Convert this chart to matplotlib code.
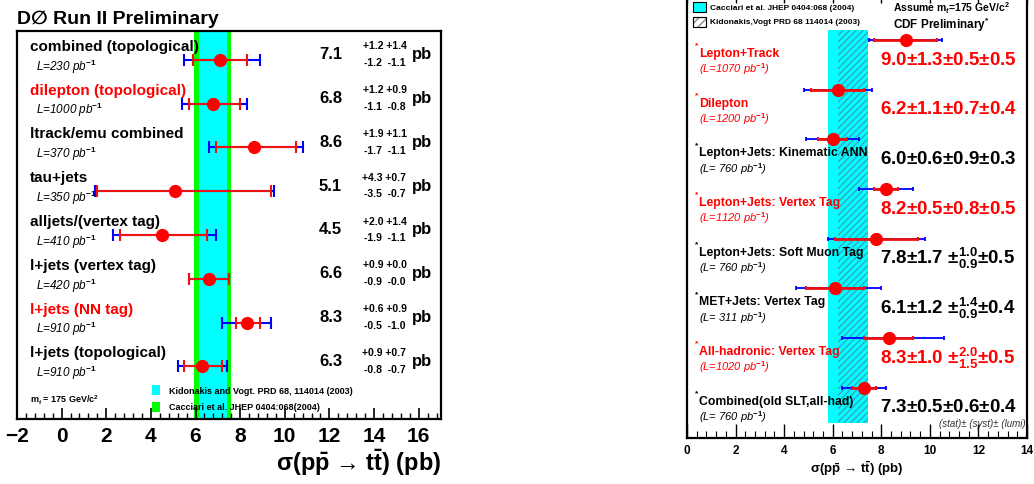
import matplotlib.pyplot as plt
from matplotlib.patches import Rectangle

plt.rcParams['font.family'] = ['Liberation Sans', 'DejaVu Sans']
plt.rcParams['font.weight'] = 'bold'
plt.rcParams['axes.labelweight'] = 'bold'
plt.rcParams['mathtext.fontset'] = 'custom'
plt.rcParams['mathtext.rm'] = 'Liberation Sans:bold'
plt.rcParams['mathtext.it'] = 'Liberation Sans:italic'
plt.rcParams['mathtext.bf'] = 'Liberation Sans:bold'

W, H = 1034, 485

# ---- D0 measurements (left panel)
d0_names = ["combined (topological)", "dilepton (topological)", "ltrack/emu combined",
            "tau+jets", "alljets/(vertex tag)", "l+jets (vertex tag)",
            "l+jets (NN tag)", "l+jets (topological)"]
d0_lumi = [230, 1000, 370, 350, 410, 420, 910, 910]
d0_val = [7.1, 6.8, 8.6, 5.1, 4.5, 6.6, 8.3, 6.3]
d0_stat_up = [1.2, 1.2, 1.9, 4.3, 2.0, 0.9, 0.6, 0.9]
d0_stat_dn = [1.2, 1.1, 1.7, 3.5, 1.9, 0.9, 0.5, 0.8]
d0_syst_up = [1.4, 0.9, 1.1, 0.7, 1.4, 0.0, 0.9, 0.7]
d0_syst_dn = [1.1, 0.8, 1.1, 0.7, 1.1, 0.0, 1.0, 0.7]
d0_tot_up = [1.8, 1.5, 2.2, 4.4, 2.4, 0.9, 1.1, 1.1]
d0_tot_dn = [1.6, 1.4, 2.0, 3.6, 2.2, 0.9, 1.1, 1.1]
d0_red = [False, True, False, False, False, False, True, False]

# theory bands (left): Cacciari (green), Kidonakis (cyan)
d0_cacciari = (5.95, 7.6)
d0_kidonakis = (6.15, 7.4)

# ---- CDF measurements (right panel)
cdf_names = ["Lepton+Track", "Dilepton", "Lepton+Jets: Kinematic ANN",
             "Lepton+Jets: Vertex Tag", "Lepton+Jets: Soft Muon Tag",
             "MET+Jets: Vertex Tag", "All-hadronic: Vertex Tag",
             "Combined(old SLT,all-had)"]
cdf_lumi = [1070, 1200, 760, 1120, 760, 311, 1020, 760]
cdf_val = [9.0, 6.2, 6.0, 8.2, 7.8, 6.1, 8.3, 7.3]
cdf_stat = [1.3, 1.1, 0.6, 0.5, 1.7, 1.2, 1.0, 0.5]
cdf_syst_up = [0.5, 0.7, 0.9, 0.8, 1.0, 1.4, 2.0, 0.6]
cdf_syst_dn = [0.5, 0.7, 0.9, 0.8, 0.9, 0.9, 1.5, 0.6]
cdf_lumi_err = [0.5, 0.4, 0.3, 0.5, 0.5, 0.4, 0.5, 0.4]
cdf_tot_up = [1.5, 1.4, 1.1, 1.1, 2.0, 1.9, 2.3, 0.9]
cdf_tot_dn = [1.5, 1.4, 1.1, 1.1, 2.0, 1.6, 1.9, 0.9]
cdf_red = [True, True, False, True, False, False, True, False]

cdf_cacciari = (5.8, 7.45)
cdf_kidonakis = (6.2, 7.45)

xlabel = "\u03c3(p$\\bar{\\mathrm{p}}$ \u2192 t$\\bar{\\mathrm{t}}$) (pb)"

fig = plt.figure(figsize=(W / 100, H / 100), dpi=100)


def px(x, y):
    return x / W, 1 - y / H


# ================= left panel =================
ax1 = fig.add_axes([17 / W, (H - 420) / H, 424 / W, 388 / H])
ax1.set_xlim(-2, 17)
ax1.set_ylim(8.2, -0.66)
ax1.axvspan(*d0_cacciari, color='#00ff00', lw=0, zorder=0)
ax1.axvspan(*d0_kidonakis, color='#00ffff', lw=0, zorder=0)

rows = list(range(len(d0_names)))
ax1.errorbar(d0_val, rows, xerr=[d0_tot_dn, d0_tot_up], fmt='none', ecolor='#0000ff',
             elinewidth=1.5, capsize=4, capthick=1.5, zorder=2)
ax1.errorbar(d0_val, rows, xerr=[d0_stat_dn, d0_stat_up], fmt='none', ecolor='#ee1111',
             elinewidth=1.5, capsize=4, capthick=1.5, zorder=3)
ax1.plot(d0_val, rows, 'o', color='#ff0000', ms=8.5, zorder=4)

for i, name in enumerate(d0_names):
    c = '#ff0000' if d0_red[i] else 'black'
    ax1.text(-1.42, i - 0.32, name, color=c, fontsize=11, va='center')
    ax1.text(-1.15, i + 0.13, f"L={d0_lumi[i]} pb$^{{\\mathit{{-1}}}}$", fontsize=8.5,
             style='italic', fontweight='normal', va='center')
    ax1.text(12.57, i - 0.14, f"{d0_val[i]:.1f}", fontsize=12, ha='right', va='center')
    ax1.text(15.45, i - 0.33, f"+{d0_stat_up[i]:.1f} +{d0_syst_up[i]:.1f}", fontsize=7.5,
             ha='right', va='center')
    ax1.text(15.4, i + 0.05, f"-{d0_stat_dn[i]:.1f}  -{d0_syst_dn[i]:.1f}", fontsize=7.5,
             ha='right', va='center')
    ax1.text(15.7, i - 0.14, "pb", fontsize=12, va='center')

ax1.set_yticks([])
ax1.set_xticks(range(-2, 17, 2))
ax1.set_xticks([x * 0.4 - 2 for x in range(48)], minor=True)
ax1.tick_params(axis='x', which='major', direction='in', length=8, width=1.2,
                labelsize=15, pad=5)
ax1.tick_params(axis='x', which='minor', direction='in', length=4, width=1.0)
for s in ax1.spines.values():
    s.set_linewidth(1.6)
ax1.set_xlabel(xlabel, fontsize=17, loc='right', labelpad=1)

fig.text(*px(17, 19), "D\u2205 Run II Preliminary", fontsize=14, va='center')
fig.text(*px(30, 400), "m$_t$ = 175 GeV/c$^2$", fontsize=6.5, va='center')
for yy, col, lab in [(391, '#00ffff', "Kidonakis and Vogt. PRD 68, 114014 (2003)"),
                     (408, '#00ff00', "Cacciari et al. JHEP 0404:068(2004)")]:
    x0, y0 = px(152, yy + 5)
    fig.patches.append(Rectangle((x0, y0), 8 / W, 10 / H, transform=fig.transFigure,
                                 facecolor=col, lw=0))
    fig.text(*px(169, yy), lab, fontsize=6.5, va='center')

# ================= right panel =================
ax2 = fig.add_axes([687 / W, (H - 439) / H, 340 / W, 449 / H])
ax2.set_xlim(0, 14)
ax2.set_ylim(8.01, -1.03)
ax2.axvspan(*cdf_cacciari, ymin=0.033, ymax=0.909, color='#00ffff', lw=0, zorder=0)
ax2.axvspan(*cdf_kidonakis, ymin=0.033, ymax=0.909, facecolor='none',
            edgecolor='#30a8c0', hatch='/////', lw=0, zorder=0.5)

rows = list(range(len(cdf_names)))
ax2.errorbar(cdf_val, rows, xerr=[cdf_tot_dn, cdf_tot_up], fmt='none', ecolor='#0000ff',
             elinewidth=1.3, capsize=1.5, capthick=1.3, zorder=2)
ax2.errorbar(cdf_val, rows, xerr=[cdf_stat, cdf_stat], fmt='none', ecolor='#ee1111',
             elinewidth=2.0, capsize=1.5, capthick=1.5, zorder=3)
ax2.plot(cdf_val, rows, 'o', color='#ff0000', ms=8.5, zorder=4)

for i, name in enumerate(cdf_names):
    c = '#ff0000' if cdf_red[i] else 'black'
    ax2.text(0.49, i + 0.26, name, color=c, fontsize=8.8, va='center', zorder=5)
    ax2.text(0.47, i + 0.1, "*", color=c, fontsize=6, ha='right', va='center')
    ax2.text(0.49, i + 0.57, f"(L={cdf_lumi[i]:4d} pb$^{{\\mathit{{-1}}}}$)", color=c,
             fontsize=8, style='italic', fontweight='normal', va='center', zorder=5)
    if cdf_syst_up[i] == cdf_syst_dn[i]:
        s = (f"${cdf_val[i]:.1f}{{\\pm}}{cdf_stat[i]:.1f}{{\\pm}}{cdf_syst_up[i]:.1f}"
             f"{{\\pm}}{cdf_lumi_err[i]:.1f}$")
    else:
        s = (f"${cdf_val[i]:.1f}{{\\pm}}{cdf_stat[i]:.1f}\\ {{\\pm}}^{{{cdf_syst_up[i]:.1f}}}"
             f"_{{{cdf_syst_dn[i]:.1f}}}{{\\pm}}{cdf_lumi_err[i]:.1f}$")
    ax2.text(7.95, i + 0.38, s, color=c, fontsize=13.5, va='center', zorder=5)

ax2.text(0.995, 0.033, "(stat)\u00b1 (syst)\u00b1 (lumi)", transform=ax2.transAxes,
         fontsize=7, style='italic', fontweight='normal', color='#333333',
         ha='right', va='center')

ax2.set_yticks([])
ax2.set_xticks(range(0, 15, 2))
ax2.set_xticks([x * 0.4 for x in range(36)], minor=True)
ax2.tick_params(axis='x', which='major', direction='in', length=10, width=1.0,
                top=True, labelsize=8.5, pad=4)
ax2.tick_params(axis='x', which='minor', direction='in', length=5, width=0.8, top=True)
for s in ax2.spines.values():
    s.set_linewidth(1.6)
ax2.set_xlabel(xlabel, fontsize=9.5, labelpad=2)

# right legend
x0, y0 = px(693, 13)
fig.patches.append(Rectangle((x0, y0), 13 / W, 10 / H, transform=fig.transFigure,
                             facecolor='#00ffff', edgecolor='black', lw=0.8))
fig.text(*px(710, 8), "Cacciari et al. JHEP 0404:068 (2004)", fontsize=6, va='center')
x0, y0 = px(693, 28)
fig.patches.append(Rectangle((x0, y0), 13 / W, 10 / H, transform=fig.transFigure,
                             facecolor='white', edgecolor='#888888', hatch='////', lw=0.8))
fig.patches.append(Rectangle((x0, y0), 13 / W, 10 / H, transform=fig.transFigure,
                             facecolor='none', edgecolor='black', lw=0.8))
fig.text(*px(710, 23), "Kidonakis,Vogt PRD 68 114014 (2003)", fontsize=6, va='center')
fig.text(*px(893, 8), "Assume m$_t$=175 GeV/c$^2$", fontsize=7.5, va='center')
fig.text(*px(893, 25), "CDF Preliminary$^{*}$", fontsize=8.5, va='center')

fig.savefig("out.png", dpi=100)
